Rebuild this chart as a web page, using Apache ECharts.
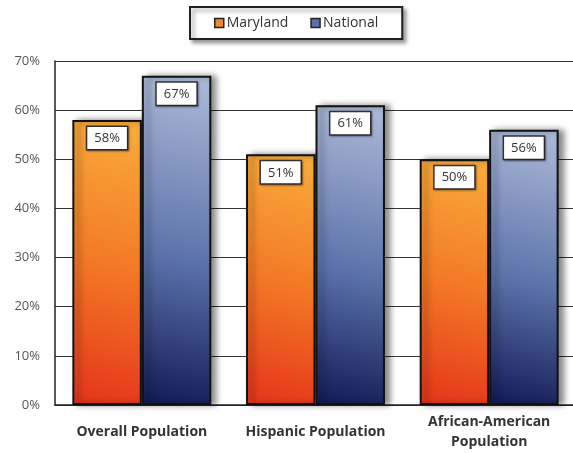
<!DOCTYPE html>
<html>
<head>
<meta charset="utf-8">
<script src="https://cdn.jsdelivr.net/npm/echarts@6/dist/echarts.min.js"></script>
<style>
  html, body { margin: 0; padding: 0; background: #fff; overflow: hidden; }
  #chart { width: 573px; height: 453px; }
</style>
</head>
<body>
<div id="chart"></div>
<script>
// Share of population (percent) by group
const categories = ['Overall Population', 'Hispanic Population', 'African-American\nPopulation'];
const marylandValues = [58, 51, 50];
const nationalValues = [67, 61, 56];
const yTicks = { min: 0, max: 70, step: 10 };

const FONT = '"Open Sans", "Liberation Sans", sans-serif';
const G = echarts.graphic.LinearGradient;

const orangeFill = new G(0, 1, 1, 0, [
  { offset: 0, color: '#e5341a' },
  { offset: 0.5, color: '#f37a26' },
  { offset: 1, color: '#f9ad3c' }
]);
const blueFill = new G(0, 1, 1, 0, [
  { offset: 0, color: '#111a55' },
  { offset: 0.45, color: '#5c72aa' },
  { offset: 1, color: '#aebcd9' }
]);

const valueLabel = {
  show: true,
  position: 'insideTop',
  distance: 7,
  formatter: '{c}%',
  fontFamily: FONT,
  fontSize: 13,
  color: '#333',
  backgroundColor: '#fff',
  borderColor: '#333',
  borderWidth: 1.5,
  padding: [5, 7, 4, 7],
  shadowColor: 'rgba(0,0,0,0.35)',
  shadowBlur: 2,
  shadowOffsetX: 1,
  shadowOffsetY: 1
};

const barStyle = (fill) => ({
  color: fill,
  borderColor: '#111',
  borderWidth: 2,
  shadowColor: 'rgba(0,0,0,0.45)',
  shadowBlur: 6,
  shadowOffsetX: 5,
  shadowOffsetY: 0
});

const chart = echarts.init(document.getElementById('chart'));
chart.setOption({
  animation: false,
  backgroundColor: '#fff',
  legend: {
    top: 7,
    left: 190,
    itemWidth: 9,
    itemHeight: 9,
    itemGap: 22,
    padding: [9, 24, 9, 24],
    backgroundColor: '#fff',
    borderColor: '#222',
    borderWidth: 2,
    shadowColor: 'rgba(0,0,0,0.4)',
    shadowBlur: 4,
    shadowOffsetX: 3,
    shadowOffsetY: 3,
    textStyle: { fontFamily: FONT, fontSize: 14, color: '#333', padding: [0, 0, 0, -2] },
    data: [
      { name: 'Maryland', icon: 'rect', itemStyle: { color: '#f08a30', borderColor: '#222', borderWidth: 1.5 } },
      { name: 'National', icon: 'rect', itemStyle: { color: '#5a70a8', borderColor: '#222', borderWidth: 1.5 } }
    ]
  },
  grid: { left: 55, width: 521, top: 61, height: 344, containLabel: false, outerBoundsMode: 'none' },
  xAxis: {
    type: 'category',
    data: categories,
    axisLine: { lineStyle: { color: '#222', width: 1.5 } },
    axisTick: { show: false },
    axisLabel: {
      interval: 0,
      margin: 27,
      verticalAlign: 'middle',
      fontFamily: FONT,
      fontSize: 14,
      fontWeight: 'bold',
      color: '#333',
      lineHeight: 20
    }
  },
  yAxis: {
    type: 'value',
    min: yTicks.min,
    max: yTicks.max,
    interval: yTicks.step,
    axisLine: { show: true, lineStyle: { color: '#222', width: 1.5 } },
    axisTick: { show: false },
    axisLabel: {
      formatter: '{value}%',
      margin: 15,
      fontFamily: FONT,
      fontSize: 13,
      color: '#555'
    },
    splitLine: { lineStyle: { color: '#333', width: 1.2 } }
  },
  series: [
    {
      name: 'Maryland',
      type: 'bar',
      data: marylandValues,
      barGap: '0%',
      barCategoryGap: '20%',
      itemStyle: barStyle(orangeFill),
      label: valueLabel
    },
    {
      name: 'National',
      type: 'bar',
      data: nationalValues,
      itemStyle: barStyle(blueFill),
      label: valueLabel
    }
  ]
});
</script>
</body>
</html>
